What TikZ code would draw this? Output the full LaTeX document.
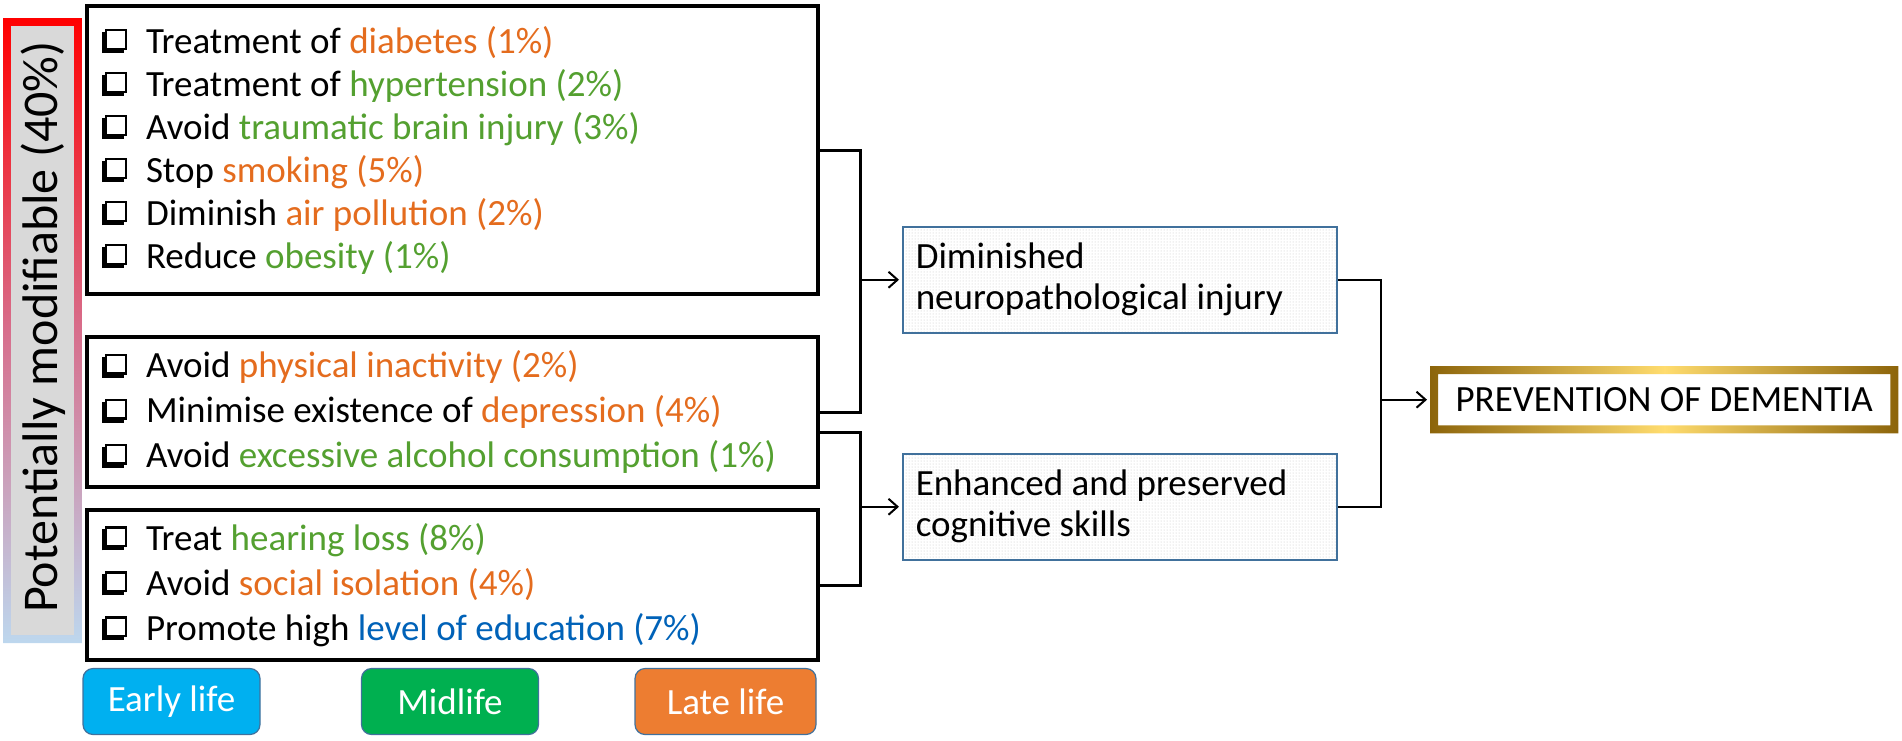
\documentclass[tikz,border=0pt]{standalone}
\usepackage{fontspec}
\setmainfont{Carlito}
\usetikzlibrary{positioning}
\usetikzlibrary{arrows.meta}
\usetikzlibrary{patterns}
\definecolor{ora}{RGB}{228,108,30}
\definecolor{grn}{RGB}{84,160,48}
\definecolor{blu}{RGB}{0,98,184}
\definecolor{lblu}{RGB}{189,215,238}
\definecolor{pnk}{RGB}{215,110,140}
\definecolor{barfill}{RGB}{217,217,217}
\definecolor{edge}{RGB}{65,113,156}
\definecolor{gdark}{RGB}{140,100,10}
\definecolor{glight}{RGB}{255,220,110}
\definecolor{erl}{RGB}{0,176,240}
\definecolor{mdl}{RGB}{0,176,80}
\definecolor{lat}{RGB}{237,125,49}
% shadowed check box, shadow on the lower left
\newcommand{\chk}{\makebox[25pt][l]{%
  \rlap{\rule{3pt}{21pt}}%
  \rlap{\rule{22pt}{3pt}}%
  \rlap{\hspace{3pt}\raisebox{3pt}{\rule{2.2pt}{21pt}}}%
  \rlap{\hspace{22.8pt}\raisebox{3pt}{\rule{2.2pt}{21pt}}}%
  \rlap{\hspace{3pt}\raisebox{3pt}{\rule{22pt}{2.2pt}}}%
  \rlap{\hspace{3pt}\raisebox{21.8pt}{\rule{22pt}{2.2pt}}}}\hspace{19pt}}
\tikzset{factbox/.style = {draw, line width=4pt, anchor=north west, inner xsep=15pt,
                           text width=701pt, align=left,
                           execute at begin node={\spaceskip=0pt\xspaceskip=0pt\relax}}}
\tikzset{effbox/.style = {draw=edge, line width=1.5pt, anchor=north west, inner xsep=13pt,
                          text width=408pt, minimum height=106pt, align=left,
                          preaction={fill=white}, pattern=dots, pattern color=gray!45,
                          font=\fontsize{37}{41}\selectfont,
                          execute at begin node={\spaceskip=0pt\xspaceskip=0pt\relax}}}
\tikzset{life/.style = {draw=edge, line width=1.2pt, rounded corners=10pt, text=white,
                        minimum height=66pt, font=\fontsize{37}{40}\selectfont}}
\tikzset{brk/.style = {line width=3pt}}
\tikzset{arr/.style = {line width=2pt, -{Straight Barb[length=9pt,width=16pt]}, shorten >=3pt}}

\begin{document}
\begin{tikzpicture}[x=1pt, y=-1pt]
  \useasboundingbox (0,0) rectangle (1902,740);
  % side bar
  \shade[top color=red, bottom color=lblu, middle color=pnk, even odd rule]
    (3,18) rectangle (82,643) (11,26) rectangle (74,635);
  \fill[barfill] (11,26) rectangle (74,635);
  \node [rotate=90, font=\fontsize{50}{50}\selectfont] (bar) at (43,327) {Potentially modifiable (40\%)};
  % factors
  \node [factbox, minimum height=288pt, font=\fontsize{37}{43}\selectfont] (grpA) at (85,4) {%
    \chk Treatment of \textcolor{ora}{diabetes (1\%)}\\
    \chk Treatment of \textcolor{grn}{hypertension (2\%)}\\
    \chk Avoid \textcolor{grn}{traumatic brain injury (3\%)}\\
    \chk Stop \textcolor{ora}{smoking (5\%)}\\
    \chk Diminish \textcolor{ora}{air pollution (2\%)}\\
    \chk Reduce \textcolor{grn}{obesity (1\%)}};
  \node [factbox, minimum height=150pt, font=\fontsize{37}{45}\selectfont] (grpB) at (85,335) {%
    \chk Avoid \textcolor{ora}{physical inactivity (2\%)}\\
    \chk Minimise existence of \textcolor{ora}{depression (4\%)}\\
    \chk Avoid \textcolor{grn}{excessive alcohol consumption (1\%)}};
  \node [factbox, minimum height=150pt, font=\fontsize{37}{45}\selectfont] (grpC) at (85,508) {%
    \chk Treat \textcolor{grn}{hearing loss (8\%)}\\
    \chk Avoid \textcolor{ora}{social isolation (4\%)}\\
    \chk Promote high \textcolor{blu}{level of education (7\%)}};
  % life stages
  \node [life, fill=erl, minimum width=177pt] (early) at (171.5,701.5) {Early life};
  \node [life, fill=mdl, minimum width=177pt] (mid) at (450,701.5) {Midlife};
  \node [life, fill=lat, minimum width=181pt] (late) at (725.5,701.5) {Late life};
  % effects
  \node [effbox] (injury) at (902,226) {Diminished\\neuropathological injury};
  \node [effbox] (skills) at (902,453) {Enhanced and preserved\\cognitive skills};
  \node [minimum width=468pt, minimum height=67pt, anchor=north west, fill=white,
         font=\fontsize{37}{40}\selectfont] (prevent) at (1430,366) {PREVENTION OF DEMENTIA};
  \shade[left color=gdark, right color=gdark, middle color=glight, even odd rule]
    (prevent.north west) rectangle (prevent.south east)
    ([xshift=8pt,yshift=-8pt]prevent.north west) rectangle ([xshift=-8pt,yshift=8pt]prevent.south east);
  % connectors
  \coordinate (bx1) at ([xshift=40pt]grpA.east);
  \draw [brk] (grpA.east) -- (bx1) |- (grpB.east);
  \draw [arr] (injury.west -| bx1) -- (injury.west);
  \coordinate (bx2) at ([xshift=40pt,yshift=-20pt]grpB.east);
  \draw [brk] ([yshift=-20pt]grpB.east) -- (bx2) |- (grpC.east);
  \draw [arr] (skills.west -| bx2) -- (skills.west);
  \coordinate (bx3) at ([xshift=43pt]injury.east);
  \draw [line width=2pt] (injury.east) -- (bx3) |- (skills.east);
  \draw [arr] (prevent.west -| bx3) -- (prevent.west);
\end{tikzpicture}
\end{document}
